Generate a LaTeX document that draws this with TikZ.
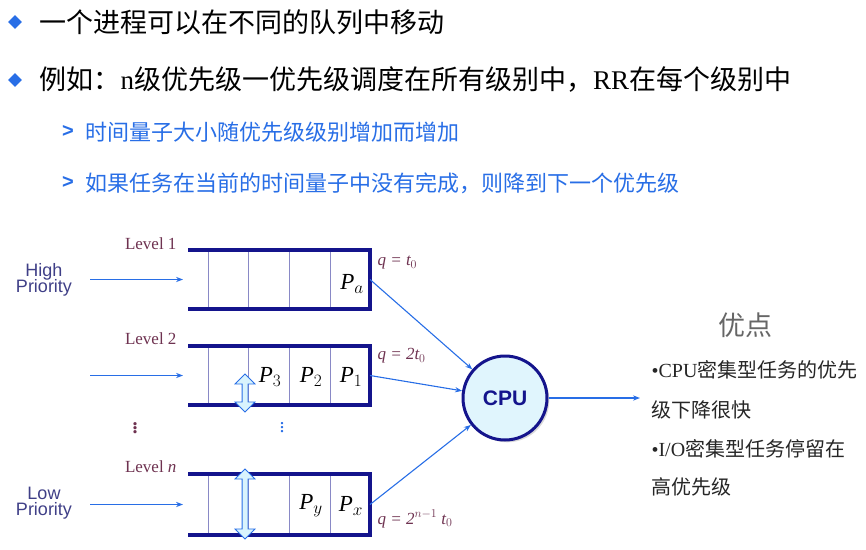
\documentclass[tikz,border=0pt]{standalone}
\usepackage{fontspec}
\setsansfont{Liberation Sans}
\setmainfont{Liberation Serif}
\newfontfamily\cjk{Noto Sans CJK SC}
\usetikzlibrary{arrows.meta,shapes.arrows,shapes.geometric,shadows}
\definecolor{qblue}{RGB}{20,20,140}
\definecolor{lblue}{RGB}{40,110,230}
\definecolor{plum}{RGB}{110,50,80}
\tikzset{
  qline/.style={qblue, line width=3.5pt},
  feed/.style={->, lblue, line width=1.1pt, >={Stealth[length=7pt]}},
  lvl/.style={plum, font=\fontsize{17}{19}\selectfont, anchor=east},
  qlab/.style={plum, font=\fontsize{17}{19}\selectfont\itshape, anchor=west},
  pname/.style={font=\fontsize{23}{24}\selectfont\itshape},
  prio/.style={qblue!60!gray, font=\sffamily\fontsize{18}{19}\selectfont, align=center},
  updown/.style={double arrow, draw=lblue, fill=cyan!15, rotate=90, minimum width=12pt,
    inner xsep=0pt, inner ysep=2.5pt, line width=0.8pt}
}
\begin{document}
\begin{tikzpicture}[x=1pt,y=-1pt]
  \useasboundingbox (0,0) rectangle (866,549);
  % HEADER
  \node[fill=lblue, diamond, inner sep=3.5pt] (d1) at (15,22) {};
  \node[anchor=west, font=\cjk\fontsize{27}{29}\selectfont] (t1) at (36,22) {一个进程可以在不同的队列中移动};
  \node[fill=lblue, diamond, inner sep=3.5pt] (d2) at (15,80) {};
  \node[anchor=west, font=\cjk\fontsize{27}{29}\selectfont] (t2) at (36,80) {例如：{\rmfamily n}级优先级一优先级调度在所有级别中，{\rmfamily RR}在每个级别中};
  \node[lblue, font=\sffamily\bfseries\fontsize{20}{20}\selectfont] (s1) at (68,131) {>};
  \node[anchor=west, lblue, font=\cjk\fontsize{22}{24}\selectfont] (u1) at (82,132) {时间量子大小随优先级级别增加而增加};
  \node[lblue, font=\sffamily\bfseries\fontsize{20}{20}\selectfont] (s2) at (68,182) {>};
  \node[anchor=west, lblue, font=\cjk\fontsize{22}{24}\selectfont] (u2) at (82,183) {如果任务在当前的时间量子中没有完成，则降到下一个优先级};

  % QUEUES
  \foreach \n/\t/\b in {1/250/309, 2/346/405, 3/474/535} {
    \foreach \x in {208,248,289,330}
      \draw[qblue!50, thin] (\x,\t) -- (\x,\b);
    \draw[qline] (188,\t) -- (370,\t) -- (370,\b) -- (188,\b);
    \coordinate (in\n) at (183,{(\t+\b)/2});
    \coordinate (out\n) at (370,{(\t+\b)/2});
    \coordinate (src\n) at (90,{(\t+\b)/2});
  }
  \node[pname] (pa) at (352,284) {P$_a$};
  \node[pname] (p1) at (351,377) {P$_1$};
  \node[pname] (p2) at (311,377) {P$_2$};
  \node[pname] (p3) at (270,377) {P$_3$};
  \node[pname] (py) at (311,506) {P$_y$};
  \node[pname] (px) at (351,506) {P$_x$};

  \node[lvl] (l1) at (180,244) {Level 1};
  \node[lvl] (l2) at (180,339) {Level 2};
  \node[lvl] (ln) at (180,467) {Level \textit{n}};
  \node[plum, font=\bfseries\fontsize{20}{20}\selectfont, inner sep=0pt] (v1) at (135,425) {$\vdots$};
  \node[lblue, font=\fontsize{20}{20}\selectfont, inner sep=0pt] (v2) at (282,425) {$\vdots$};

  \node[qlab] (q1) at (374,263) {q = t$_0$};
  \node[qlab] (q2) at (374,356) {q = 2t$_0$};
  \node[qlab] (qn) at (374,519) {q = 2$^{n{-}1}$ t$_0$};

  \node[prio] (hi) at (44,280) {High\\[-3pt]Priority};
  \node[prio] (lo) at (44,503) {Low\\[-3pt]Priority};

  \node[updown, minimum height=38pt] (m2) at (245,393) {};
  \node[updown, minimum height=70pt] (mn) at (245,504) {};

  % CPU
  \node[circle, draw=qblue, line width=3pt, fill=cyan!12, minimum size=84pt,
    drop shadow={opacity=0.3}, font=\sffamily\bfseries\fontsize{21}{21}\selectfont, text=qblue] (cpu) at (505,398) {CPU};
  \coordinate (done) at (640,398);

  \foreach \n in {1,2,3}
    \draw[feed] (src\n) -- (in\n);
  \draw[feed] (out1) -- (cpu);
  \draw[feed] (out2) -- (cpu);
  \draw[feed] (out3) -- (cpu);
  \draw[feed] (cpu) -- (done);

  % NOTES
  \node[gray!80!black, font=\cjk\fontsize{27}{29}\selectfont] (adv) at (745,325) {优点};
  \node[anchor=west, gray!30!black, font=\cjk\fontsize{20}{22}\selectfont] (a1) at (648,370) {{\rmfamily •CPU}密集型任务的优先};
  \node[anchor=west, gray!30!black, font=\cjk\fontsize{20}{22}\selectfont] (a2) at (648,410) {级下降很快};
  \node[anchor=west, gray!30!black, font=\cjk\fontsize{20}{22}\selectfont] (a3) at (648,449) {{\rmfamily •I/O}密集型任务停留在};
  \node[anchor=west, gray!30!black, font=\cjk\fontsize{20}{22}\selectfont] (a4) at (648,487) {高优先级};
\end{tikzpicture}
\end{document}
